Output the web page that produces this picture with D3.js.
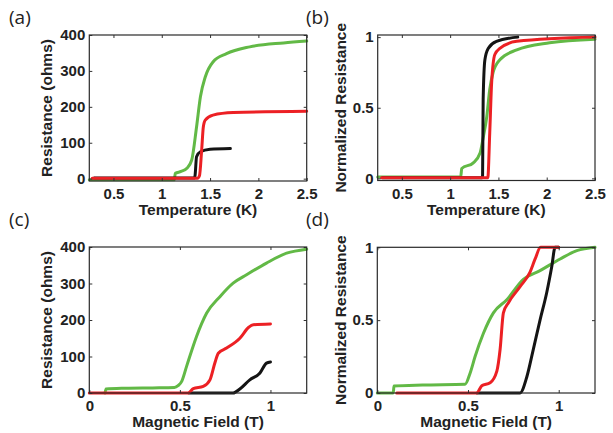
<!DOCTYPE html>
<html>
<head>
<meta charset="utf-8">
<script src="https://cdn.jsdelivr.net/npm/d3@7"></script>
<style>
  body { margin: 0; background: #fff; }
  svg { display: block; }
  .tick text { font-family: "Liberation Sans", Arial, sans-serif; font-weight: bold; font-size: 15px; fill: #222; }
  .axis-label { font-family: "Liberation Sans", Arial, sans-serif; font-weight: bold; font-size: 15.5px; fill: #222; }
  .panel-label { font-family: "Open Sans", "Noto Sans", sans-serif; font-size: 19px; fill: #222; }
</style>
</head>
<body>
<div id="viz-container"></div>
<script>
// DATA: [x, y] pairs
// (a) resistance vs temperature
const aGreen = [[0.25,-3],[1.13,-3],[1.14,15],[1.2,20],[1.26,29],[1.31,52],[1.36,144],[1.4,228],[1.45,283],[1.53,325],[1.67,348],[1.91,367],[2.26,378],[2.5,383]];
const aBlack = [[0.3,2],[1.34,2],[1.345,10],[1.36,61],[1.4,75],[1.5,82],[1.71,84]];
const aRed   = [[0.28,1],[1.37,1],[1.39,8],[1.413,80],[1.43,144],[1.45,163],[1.53,177],[1.74,184],[2.5,188]];

// (b) normalized resistance vs temperature
const bGreen = [[0.25,0.01],[1.11,0.01],[1.12,0.07],[1.24,0.11],[1.31,0.18],[1.34,0.28],[1.38,0.44],[1.41,0.63],[1.445,0.75],[1.515,0.84],[1.69,0.91],[2.03,0.96],[2.5,0.985]];
const bBlack = [[0.3,0.005],[1.33,0.005],[1.336,0.02],[1.342,0.56],[1.36,0.84],[1.394,0.92],[1.48,0.97],[1.7,1.0]];
const bRed   = [[0.29,0.005],[1.39,0.005],[1.41,0.32],[1.43,0.68],[1.463,0.877],[1.515,0.92],[1.69,0.97],[2.5,1.0]];

// (c) resistance vs magnetic field
const cGreen = [[0.087,0],[0.092,11],[0.2,13],[0.35,14],[0.47,15],[0.49,20],[0.51,32],[0.537,73],[0.592,155],[0.648,219],[0.721,264],[0.794,301],[0.868,324],[0.978,356],[1.089,383],[1.2,394]];
const cBlack = [[0.55,0],[0.794,0],[0.831,11],[0.886,36],[0.942,55],[0.978,82],[1.0,85]];
const cRed   = [[0,0],[0.546,0],[0.574,12],[0.629,18],[0.666,36],[0.693,82],[0.712,109],[0.758,123],[0.831,150],[0.88,180],[0.905,187],[1.0,189]];

// (d) normalized resistance vs magnetic field
const dGreen = [[0,0],[0.088,0],[0.092,0.048],[0.25,0.055],[0.484,0.06],[0.511,0.134],[0.539,0.25],[0.585,0.41],[0.64,0.55],[0.714,0.64],[0.805,0.78],[0.897,0.84],[1.008,0.92],[1.1,0.977],[1.2,1.0]];
const dBlack = [[0.55,0],[0.787,0],[0.824,0.11],[0.86,0.3],[0.897,0.5],[0.934,0.69],[0.962,0.87],[0.98,1.0],[1.0,1.0]];
const dRed   = [[0.107,0],[0.548,0],[0.576,0.05],[0.622,0.07],[0.659,0.15],[0.677,0.3],[0.695,0.55],[0.723,0.62],[0.787,0.73],[0.842,0.83],[0.87,0.92],[0.9,1.0],[1.0,1.0]];

// TICKS
const tempTicks = [0.5, 1, 1.5, 2, 2.5];
const fieldTicks = [0, 0.5, 1];
const resTicks = [0, 100, 200, 300, 400];
const normTicks = [0, 0.5, 1];

// CONSTANTS
const WIDTH = 613;
const HEIGHT = 433;
const GREEN = "#62b946";
const RED = "#ec2024";
const BLACK = "#141414";

const panels = [
  { label: "(a)", lx: 9, ly: 24, left: 89.3, top: 35, w: 217.4, h: 146,
    xDomain: [0.25, 2.5], yDomain: [-6.5, 400], xTicks: tempTicks, yTicks: resTicks,
    xLabel: "Temperature (K)", yLabel: "Resistance (ohms)", ylx: 52,
    series: [aGreen, aBlack, aRed] },
  { label: "(b)", lx: 306, ly: 24, left: 377.7, top: 35, w: 217.3, h: 145.5,
    xDomain: [0.25, 2.5], yDomain: [-0.015, 1.015], xTicks: tempTicks, yTicks: normTicks,
    xLabel: "Temperature (K)", yLabel: "Normalized Resistance", ylx: 346,
    series: [bGreen, bBlack, bRed] },
  { label: "(c)", lx: 9, ly: 226, left: 89.3, top: 247, w: 217.4, h: 146,
    xDomain: [0, 1.2], yDomain: [0, 400], xTicks: fieldTicks, yTicks: resTicks,
    xLabel: "Magnetic Field (T)", yLabel: "Resistance (ohms)", ylx: 52,
    series: [cGreen, cBlack, cRed] },
  { label: "(d)", lx: 306, ly: 226, left: 377.3, top: 247.3, w: 217.7, h: 145.7,
    xDomain: [0, 1.2], yDomain: [0, 1], xTicks: fieldTicks, yTicks: normTicks,
    xLabel: "Magnetic Field (T)", yLabel: "Normalized Resistance", ylx: 346,
    series: [dGreen, dBlack, dRed] }
];
const seriesColors = [GREEN, BLACK, RED];

const svg = d3.select("#viz-container")
  .append("svg")
  .attr("width", WIDTH)
  .attr("height", HEIGHT);

const drawPanel = (p) => {
  const x = d3.scaleLinear().domain(p.xDomain).range([p.left, p.left + p.w]);
  const y = d3.scaleLinear().domain(p.yDomain).range([p.top + p.h, p.top]);
  const g = svg.append("g");

  // data lines
  const line = d3.line()
    .x(d => x(d[0]))
    .y(d => y(d[1]))
    .curve(d3.curveMonotoneX);

  g.selectAll("path.series")
    .data(p.series)
    .join("path")
    .attr("class", "series")
    .attr("d", line)
    .attr("fill", "none")
    .attr("stroke", (_, i) => seriesColors[i])
    .attr("stroke-width", 3)
    .attr("stroke-linejoin", "round")
    .attr("stroke-linecap", "round");

  // axes, ticks pointing inwards on all four sides
  const bottom = g.append("g")
    .attr("transform", `translate(0,${p.top + p.h})`)
    .call(d3.axisBottom(x).tickValues(p.xTicks).tickFormat(d => String(d))
      .tickSize(-3).tickSizeOuter(0).tickPadding(7.5));
  const leftAx = g.append("g")
    .attr("transform", `translate(${p.left},0)`)
    .call(d3.axisLeft(y).tickValues(p.yTicks).tickFormat(d => String(d))
      .tickSize(-3).tickSizeOuter(0).tickPadding(4));
  const topAx = g.append("g")
    .attr("transform", `translate(0,${p.top})`)
    .call(d3.axisTop(x).tickValues(p.xTicks).tickFormat("").tickSize(-3).tickSizeOuter(0));
  const rightAx = g.append("g")
    .attr("transform", `translate(${p.left + p.w},0)`)
    .call(d3.axisRight(y).tickValues(p.yTicks).tickFormat("").tickSize(-3).tickSizeOuter(0));

  [bottom, leftAx, topAx, rightAx].forEach(a => {
    a.select(".domain").remove();
    a.selectAll(".tick line").attr("stroke", "#333").attr("stroke-width", 1);
  });

  // box
  g.append("rect")
    .attr("x", p.left)
    .attr("y", p.top)
    .attr("width", p.w)
    .attr("height", p.h)
    .attr("fill", "none")
    .attr("stroke", "#2a2a2a")
    .attr("stroke-width", 1.2);

  // axis labels
  g.append("text")
    .attr("class", "axis-label")
    .attr("x", p.left + p.w / 2)
    .attr("y", p.top + p.h + 34)
    .attr("text-anchor", "middle")
    .text(p.xLabel);

  g.append("text")
    .attr("class", "axis-label")
    .attr("transform", `translate(${p.ylx},${p.top + p.h / 2}) rotate(-90)`)
    .attr("text-anchor", "middle")
    .text(p.yLabel);

  // panel letter
  g.append("text")
    .attr("class", "panel-label")
    .attr("x", p.lx)
    .attr("y", p.ly)
    .text(p.label);
};

panels.forEach(drawPanel);
</script>
</body>
</html>
